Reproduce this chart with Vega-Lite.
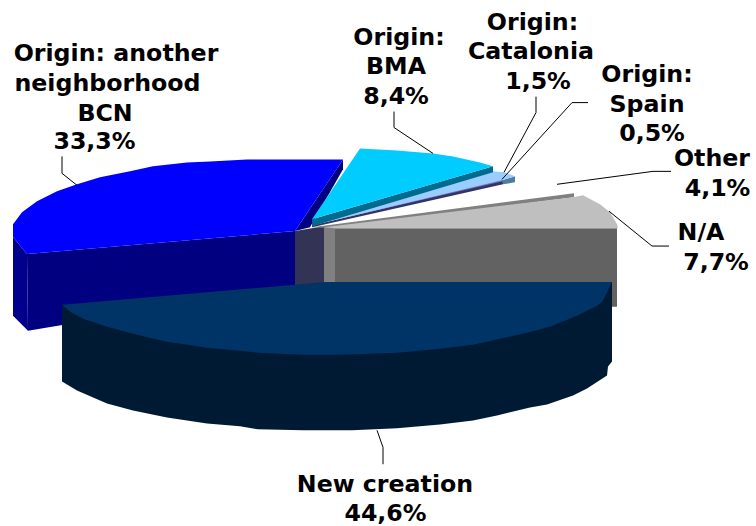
{"$schema":"https://vega.github.io/schema/vega-lite/v6.json","width":756,"height":526,"autosize":{"type":"fit","contains":"padding"},"padding":0,"background":"white","view":{"stroke":null},
"datasets":{
"shapes":[
{"s":"01 blue side","c":"#000080","i":1,"x":27,"y":255},{"s":"01 blue side","c":"#000080","i":2,"x":295,"y":232},{"s":"01 blue side","c":"#000080","i":3,"x":295,"y":287},{"s":"01 blue side","c":"#000080","i":4,"x":28,"y":332},
{"s":"02 blue outer","c":"#00008C","i":1,"x":13,"y":238},{"s":"02 blue outer","c":"#00008C","i":2,"x":27,"y":255},{"s":"02 blue outer","c":"#00008C","i":3,"x":28,"y":332},{"s":"02 blue outer","c":"#00008C","i":4,"x":13,"y":317},
{"s":"03 blue cut","c":"#000080","i":1,"x":343,"y":160},{"s":"03 blue cut","c":"#000080","i":2,"x":343,"y":170},{"s":"03 blue cut","c":"#000080","i":3,"x":310,"y":228},{"s":"03 blue cut","c":"#000080","i":4,"x":295,"y":232},
{"s":"04 blue top","c":"#0000FF","i":1,"x":343,"y":160},{"s":"04 blue top","c":"#0000FF","i":2,"x":295,"y":232},{"s":"04 blue top","c":"#0000FF","i":3,"x":27,"y":255},{"s":"04 blue top","c":"#0000FF","i":4,"x":13,"y":238},{"s":"04 blue top","c":"#0000FF","i":5,"x":13,"y":225},{"s":"04 blue top","c":"#0000FF","i":6,"x":22,"y":213},{"s":"04 blue top","c":"#0000FF","i":7,"x":37,"y":202},{"s":"04 blue top","c":"#0000FF","i":8,"x":57,"y":192},{"s":"04 blue top","c":"#0000FF","i":9,"x":77,"y":185},{"s":"04 blue top","c":"#0000FF","i":10,"x":100,"y":178},{"s":"04 blue top","c":"#0000FF","i":11,"x":130,"y":172},{"s":"04 blue top","c":"#0000FF","i":12,"x":153,"y":167},{"s":"04 blue top","c":"#0000FF","i":13,"x":187,"y":163},{"s":"04 blue top","c":"#0000FF","i":14,"x":210,"y":162},{"s":"04 blue top","c":"#0000FF","i":15,"x":247,"y":160},
{"s":"05 wall","c":"#333355","i":1,"x":295,"y":232},{"s":"05 wall","c":"#333355","i":2,"x":324,"y":227},{"s":"05 wall","c":"#333355","i":3,"x":324,"y":290},{"s":"05 wall","c":"#333355","i":4,"x":295,"y":290},
{"s":"06 grey wall","c":"#808080","i":1,"x":324,"y":227},{"s":"06 grey wall","c":"#808080","i":2,"x":335,"y":229},{"s":"06 grey wall","c":"#808080","i":3,"x":335,"y":290},{"s":"06 grey wall","c":"#808080","i":4,"x":324,"y":290},
{"s":"07 grey side","c":"#626262","i":1,"x":335,"y":229},{"s":"07 grey side","c":"#626262","i":2,"x":617,"y":229},{"s":"07 grey side","c":"#626262","i":3,"x":617,"y":308},{"s":"07 grey side","c":"#626262","i":4,"x":335,"y":308},
{"s":"08 other strip","c":"#808080","i":1,"x":312,"y":228},{"s":"08 other strip","c":"#808080","i":2,"x":574,"y":194},{"s":"08 other strip","c":"#808080","i":3,"x":574,"y":198},{"s":"08 other strip","c":"#808080","i":4,"x":335,"y":229},
{"s":"09 grey top","c":"#BFBFBF","i":1,"x":324,"y":228},{"s":"09 grey top","c":"#BFBFBF","i":2,"x":573,"y":198},{"s":"09 grey top","c":"#BFBFBF","i":3,"x":583,"y":196},{"s":"09 grey top","c":"#BFBFBF","i":4,"x":600,"y":205},{"s":"09 grey top","c":"#BFBFBF","i":5,"x":610,"y":213},{"s":"09 grey top","c":"#BFBFBF","i":6,"x":617,"y":225},{"s":"09 grey top","c":"#BFBFBF","i":7,"x":618,"y":229},{"s":"09 grey top","c":"#BFBFBF","i":8,"x":335,"y":229},
{"s":"10 spain dark","c":"#333366","i":1,"x":312,"y":226},{"s":"10 spain dark","c":"#333366","i":2,"x":503,"y":181},{"s":"10 spain dark","c":"#333366","i":3,"x":503,"y":185},{"s":"10 spain dark","c":"#333366","i":4,"x":312,"y":228},
{"s":"11 spain top","c":"#7272B4","i":1,"x":312,"y":225},{"s":"11 spain top","c":"#7272B4","i":2,"x":502,"y":179},{"s":"11 spain top","c":"#7272B4","i":3,"x":503,"y":182},{"s":"11 spain top","c":"#7272B4","i":4,"x":312,"y":226},
{"s":"12 catalonia side","c":"#4F7CA0","i":1,"x":502,"y":181},{"s":"12 catalonia side","c":"#4F7CA0","i":2,"x":515,"y":177},{"s":"12 catalonia side","c":"#4F7CA0","i":3,"x":515,"y":183},{"s":"12 catalonia side","c":"#4F7CA0","i":4,"x":503,"y":185},
{"s":"13 catalonia top","c":"#99CCFF","i":1,"x":312,"y":224},{"s":"13 catalonia top","c":"#99CCFF","i":2,"x":493,"y":172},{"s":"13 catalonia top","c":"#99CCFF","i":3,"x":504,"y":173},{"s":"13 catalonia top","c":"#99CCFF","i":4,"x":515,"y":177},{"s":"13 catalonia top","c":"#99CCFF","i":5,"x":502,"y":181},{"s":"13 catalonia top","c":"#99CCFF","i":6,"x":313,"y":226},
{"s":"14 bma cut","c":"#006B8F","i":1,"x":312,"y":220},{"s":"14 bma cut","c":"#006B8F","i":2,"x":493,"y":167},{"s":"14 bma cut","c":"#006B8F","i":3,"x":493,"y":173},{"s":"14 bma cut","c":"#006B8F","i":4,"x":312,"y":227},
{"s":"15 bma top","c":"#00CCFF","i":1,"x":360,"y":149},{"s":"15 bma top","c":"#00CCFF","i":2,"x":397,"y":151},{"s":"15 bma top","c":"#00CCFF","i":3,"x":433,"y":154},{"s":"15 bma top","c":"#00CCFF","i":4,"x":453,"y":157},{"s":"15 bma top","c":"#00CCFF","i":5,"x":480,"y":163},{"s":"15 bma top","c":"#00CCFF","i":6,"x":493,"y":167},{"s":"15 bma top","c":"#00CCFF","i":7,"x":312,"y":220},
{"s":"16 new side","c":"#001A33","i":1,"x":62,"y":306},{"s":"16 new side","c":"#001A33","i":2,"x":612,"y":283},{"s":"16 new side","c":"#001A33","i":3,"x":612,"y":363},{"s":"16 new side","c":"#001A33","i":4,"x":608,"y":368},{"s":"16 new side","c":"#001A33","i":5,"x":607,"y":377},{"s":"16 new side","c":"#001A33","i":6,"x":587,"y":390},{"s":"16 new side","c":"#001A33","i":7,"x":573,"y":397},{"s":"16 new side","c":"#001A33","i":8,"x":547,"y":406},{"s":"16 new side","c":"#001A33","i":9,"x":530,"y":409},{"s":"16 new side","c":"#001A33","i":10,"x":497,"y":417},{"s":"16 new side","c":"#001A33","i":11,"x":473,"y":422},{"s":"16 new side","c":"#001A33","i":12,"x":440,"y":426},{"s":"16 new side","c":"#001A33","i":13,"x":397,"y":430},{"s":"16 new side","c":"#001A33","i":14,"x":352,"y":432},{"s":"16 new side","c":"#001A33","i":15,"x":303,"y":432},{"s":"16 new side","c":"#001A33","i":16,"x":258,"y":431},{"s":"16 new side","c":"#001A33","i":17,"x":240,"y":428},{"s":"16 new side","c":"#001A33","i":18,"x":207,"y":425},{"s":"16 new side","c":"#001A33","i":19,"x":167,"y":419},{"s":"16 new side","c":"#001A33","i":20,"x":133,"y":412},{"s":"16 new side","c":"#001A33","i":21,"x":107,"y":405},{"s":"16 new side","c":"#001A33","i":22,"x":77,"y":392},{"s":"16 new side","c":"#001A33","i":23,"x":62,"y":383},
{"s":"17 new top","c":"#003366","i":1,"x":62,"y":306},{"s":"17 new top","c":"#003366","i":2,"x":326,"y":283},{"s":"17 new top","c":"#003366","i":3,"x":612,"y":283},{"s":"17 new top","c":"#003366","i":4,"x":603,"y":302},{"s":"17 new top","c":"#003366","i":5,"x":597,"y":307},{"s":"17 new top","c":"#003366","i":6,"x":577,"y":317},{"s":"17 new top","c":"#003366","i":7,"x":550,"y":328},{"s":"17 new top","c":"#003366","i":8,"x":523,"y":335},{"s":"17 new top","c":"#003366","i":9,"x":500,"y":340},{"s":"17 new top","c":"#003366","i":10,"x":473,"y":346},{"s":"17 new top","c":"#003366","i":11,"x":440,"y":350},{"s":"17 new top","c":"#003366","i":12,"x":397,"y":354},{"s":"17 new top","c":"#003366","i":13,"x":341,"y":356},{"s":"17 new top","c":"#003366","i":14,"x":303,"y":356},{"s":"17 new top","c":"#003366","i":15,"x":258,"y":354},{"s":"17 new top","c":"#003366","i":16,"x":240,"y":352},{"s":"17 new top","c":"#003366","i":17,"x":207,"y":349},{"s":"17 new top","c":"#003366","i":18,"x":167,"y":343},{"s":"17 new top","c":"#003366","i":19,"x":133,"y":335},{"s":"17 new top","c":"#003366","i":20,"x":107,"y":328},{"s":"17 new top","c":"#003366","i":21,"x":83,"y":320},{"s":"17 new top","c":"#003366","i":22,"x":70,"y":313}
],
"leaders":[
{"s":"a","i":1,"x":62,"y":157},{"s":"a","i":2,"x":62,"y":174},{"s":"a","i":3,"x":77,"y":186},
{"s":"b","i":1,"x":394,"y":112},{"s":"b","i":2,"x":394,"y":128},{"s":"b","i":3,"x":433,"y":154},
{"s":"c","i":1,"x":536,"y":97},{"s":"c","i":2,"x":536,"y":113},{"s":"c","i":3,"x":504,"y":173},
{"s":"d","i":1,"x":588,"y":103},{"s":"d","i":2,"x":572,"y":103},{"s":"d","i":3,"x":502,"y":180},
{"s":"e","i":1,"x":671,"y":172},{"s":"e","i":2,"x":653,"y":172},{"s":"e","i":3,"x":557,"y":185},
{"s":"f","i":1,"x":669,"y":247},{"s":"f","i":2,"x":652,"y":247},{"s":"f","i":3,"x":609,"y":212},
{"s":"g","i":1,"x":377,"y":432},{"s":"g","i":2,"x":383,"y":449},{"s":"g","i":3,"x":383,"y":466}
],
"labels":[
{"t":"Origin: another","x":116,"y":61},{"t":"neighborhood","x":107.5,"y":91},{"t":"BCN","x":105,"y":121},{"t":"33,3%","x":94.5,"y":150},
{"t":"Origin:","x":399,"y":45},{"t":"BMA","x":396,"y":74},{"t":"8,4%","x":396,"y":104},
{"t":"Origin:","x":532.5,"y":30},{"t":"Catalonia","x":531,"y":59},{"t":"1,5%","x":538,"y":89},
{"t":"Origin:","x":647,"y":82},{"t":"Spain","x":647,"y":112},{"t":"0,5%","x":652,"y":142},
{"t":"Other","x":712,"y":167},{"t":"4,1%","x":717.5,"y":197},
{"t":"N/A","x":701,"y":241},{"t":"7,7%","x":716,"y":271},
{"t":"New creation","x":385,"y":494},{"t":"44,6%","x":385.5,"y":523}
]},
"layer":[
{"data":{"name":"shapes"},"mark":{"type":"line","filled":true,"interpolate":"linear-closed","strokeWidth":0},
"encoding":{"x":{"field":"x","type":"quantitative","scale":{"domain":[0,756],"nice":false,"zero":false},"axis":null},"y":{"field":"y","type":"quantitative","scale":{"domain":[526,0],"nice":false,"zero":false},"axis":null},"order":{"field":"i","type":"quantitative"},"detail":{"field":"s"},"fill":{"field":"c","type":"nominal","scale":null},"stroke":{"field":"c","type":"nominal","scale":null}}},
{"data":{"name":"leaders"},"mark":{"type":"line","color":"#000000","strokeWidth":1},
"encoding":{"x":{"field":"x","type":"quantitative"},"y":{"field":"y","type":"quantitative"},"order":{"field":"i","type":"quantitative"},"detail":{"field":"s"}}},
{"data":{"name":"labels"},"mark":{"type":"text","font":"DejaVu Sans","fontWeight":"bold","fontSize":23.7,"align":"center","baseline":"alphabetic","color":"#000000"},
"encoding":{"x":{"field":"x","type":"quantitative"},"y":{"field":"y","type":"quantitative"},"text":{"field":"t"}}}
]}
